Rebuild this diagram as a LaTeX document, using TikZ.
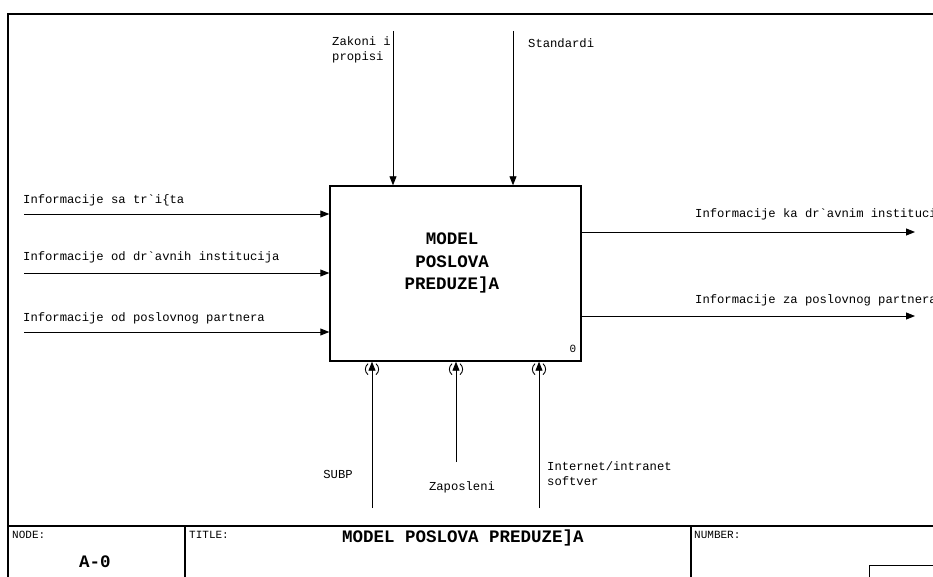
\documentclass[tikz,border=0pt]{standalone}
\usepackage{fontspec}
% mono family without TeX ligature mapping, so ` stays a grave accent
\setmonofont{Liberation Mono}
\renewcommand{\familydefault}{\ttdefault}
\usetikzlibrary{arrows.meta}

\begin{document}
\begin{tikzpicture}[x=1pt,y=-1pt,
  flow/.style={line width=0.9pt,-{Triangle[length=9pt,width=7pt]}},
  frame/.style={line width=1.1pt},
  lbl/.style={font=\ttfamily\fontsize{12.2}{14}\selectfont, inner sep=0pt},
  small/.style={font=\ttfamily\fontsize{11}{12}\selectfont, inner sep=0pt},
  heading/.style={font=\ttfamily\fontsize{17.5}{22.5}\selectfont\bfseries, inner sep=0pt, align=center},
  tunnel/.style={line width=0.9pt}]

  % page area
  \useasboundingbox (0,0) rectangle (933,577);
  \clip (0,0) rectangle (933,577);

  % sheet frame
  \draw[frame] (8,577) -- (8,14) -- (933,14);

  % activity box
  \node[draw, line width=1.4pt, minimum width=251pt, minimum height=175pt, inner sep=0pt] (box) at (455.5,273.5) {};
  \node[heading] (boxtitle) at (452,263) {MODEL\\POSLOVA\\PREDUZE]A};
  \node[small] (boxnum) at (573,349) {0};

  % inputs
  \coordinate (i1) at (24,214);
  \coordinate (i2) at (24,273);
  \coordinate (i3) at (24,332);
  \draw[flow] (i1) -- (box.west |- i1);
  \draw[flow] (i2) -- (box.west |- i2);
  \draw[flow] (i3) -- (box.west |- i3);
  \node[lbl, anchor=west] (li1) at (23,200) {Informacije sa tr`i\{ta};
  \node[lbl, anchor=west] (li2) at (23,257) {Informacije od dr`avnih institucija};
  \node[lbl, anchor=west] (li3) at (23,318) {Informacije od poslovnog partnera};

  % outputs
  \coordinate (o1) at (915,232);
  \coordinate (o2) at (915,316);
  \draw[flow] (box.east |- o1) -- (o1);
  \draw[flow] (box.east |- o2) -- (o2);
  \node[lbl, anchor=west] (lo1) at (695,214) {Informacije ka dr`avnim institucijama};
  \node[lbl, anchor=west] (lo2) at (695,300) {Informacije za poslovnog partnera};

  % controls
  \coordinate (c1) at (393,31);
  \coordinate (c2) at (513,31);
  \draw[flow] (c1) -- (c1 |- box.north);
  \draw[flow] (c2) -- (c2 |- box.north);
  \node[lbl, anchor=north east, align=left, font=\ttfamily\fontsize{12.2}{15}\selectfont] (lc1) at (391,36) {Zakoni i\\propisi};
  \node[lbl, anchor=west] (lc2) at (528,43) {Standardi};

  % mechanisms
  \coordinate (m1) at (372,508);
  \coordinate (m2) at (456,462);
  \coordinate (m3) at (539,508);
  \draw[flow] (m1) -- (m1 |- box.south);
  \draw[flow] (m2) -- (m2 |- box.south);
  \draw[flow] (m3) -- (m3 |- box.south);
  \foreach \m in {m1,m2,m3}{
    \draw[tunnel, shift={(\m |- box.south)}] (-4,2) .. controls (-7.5,5) and (-7.5,10) .. (-4,13);
    \draw[tunnel, shift={(\m |- box.south)}] (4,2) .. controls (7.5,5) and (7.5,10) .. (4,13);
  }
  \node[lbl] (lm1) at (338,474) {SUBP};
  \node[lbl] (lm2) at (462,487) {Zaposleni};
  \node[lbl, anchor=north west, align=left, font=\ttfamily\fontsize{12.2}{15}\selectfont] (lm3) at (547,461) {Internet/intranet\\softver};

  % title block
  \draw[frame] (8,526) -- (933,526);
  \draw[frame] (185,526) -- (185,577);
  \draw[frame] (691,526) -- (691,577);
  \draw[line width=0.9pt] (933,565) -- (869,565) -- (869,577);
  \node[small, anchor=west] (nodelbl) at (12,535) {NODE:};
  \node[small, anchor=west] (titlelbl) at (189,535) {TITLE:};
  \node[small, anchor=west] (numlbl) at (694,535) {NUMBER:};
  \node[heading] (nodeval) at (95,562) {A-0};
  \node[heading] (titleval) at (463,538) {MODEL POSLOVA PREDUZE]A};
\end{tikzpicture}
\end{document}
